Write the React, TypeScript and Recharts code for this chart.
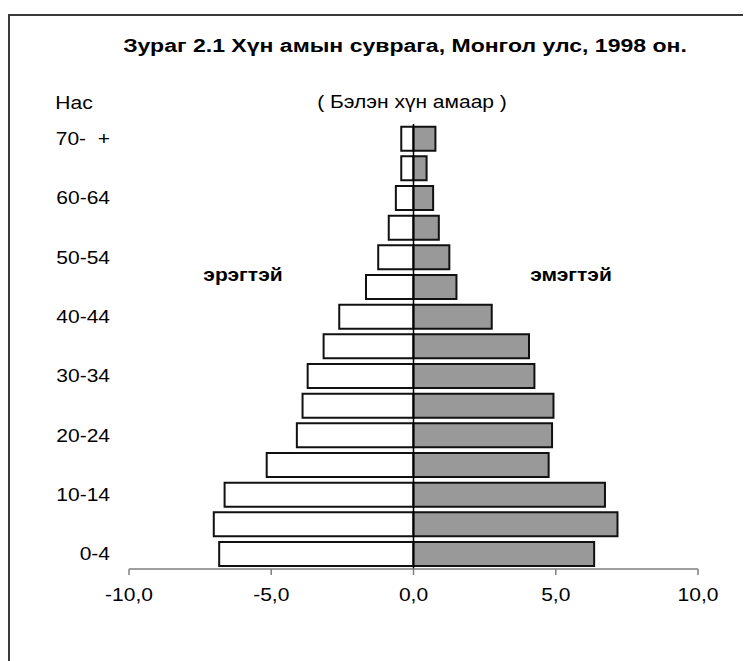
import React from "react";
import {
  BarChart,
  Bar,
  XAxis,
  YAxis,
  ReferenceLine,
} from "recharts";

/* ── Population pyramid, Mongolia 1998 (percent of total population) ── */
const ageGroups = [
  "0-4", "5-9", "10-14", "15-19", "20-24", "25-29", "30-34", "35-39",
  "40-44", "45-49", "50-54", "55-59", "60-64", "65-69", "70-  +",
];
const male = [
  -6.83, -7.02, -6.64, -5.16, -4.1, -3.9, -3.72, -3.16,
  -2.61, -1.67, -1.24, -0.87, -0.62, -0.43, -0.43,
];
const female = [
  6.35, 7.17, 6.73, 4.75, 4.87, 4.92, 4.25, 4.06,
  2.75, 1.51, 1.26, 0.89, 0.69, 0.46, 0.77,
];
const xTicks = [-10, -5, 0, 5, 10];

const data = ageGroups.map((age, i) => ({ age, male: male[i], female: female[i] }));

const FONT = "'Liberation Sans', Arial, sans-serif";
const SX = 1.2;

const fmt = (v: number) => v.toFixed(1).replace(".", ",");

const XTick = ({ x, y, payload }: any) => (
  <g transform={`translate(${x},${y}) scale(${SX},1)`}>
    <text textAnchor="middle" dy="0.71em" fontSize={17.5} fill="#000" fontFamily={FONT}>
      {fmt(payload.value)}
    </text>
  </g>
);

const YTick = ({ x, y, payload }: any) => (
  <g transform={`translate(${x},${y}) scale(${SX},1)`}>
    <text
      textAnchor="end"
      dy="0.355em"
      fontSize={17.5}
      fill="#000"
      fontFamily={FONT}
      style={{ whiteSpace: "pre" }}
    >
      {payload.value}
    </text>
  </g>
);

function Label({
  x,
  y,
  size,
  bold,
  children,
}: {
  x: number;
  y: number;
  size: number;
  bold?: boolean;
  children: React.ReactNode;
}) {
  return (
    <div
      style={{
        position: "absolute",
        left: x,
        top: y,
        transform: `translate(-50%,-50%) scaleX(${SX})`,
        fontFamily: FONT,
        fontSize: size,
        fontWeight: bold ? 700 : 400,
        lineHeight: 1,
        whiteSpace: "pre",
        color: "#000",
      }}
    >
      {children}
    </div>
  );
}

export default function App() {
  // page coords minus the 8px body margin
  return (
    <div style={{ position: "relative", width: 743, height: 653, overflow: "hidden", background: "#fff" }}>
      <div
        style={{
          position: "absolute",
          left: 0,
          top: 6,
          width: 800,
          height: 700,
          borderTop: "2px solid #3a3a3a",
          borderLeft: "2px solid #3a3a3a",
        }}
      />
      <Label x={397} y={38} size={19.2} bold>
        Зураг 2.1 Хүн амын суврага, Монгол улс, 1998 он.
      </Label>
      <Label x={66} y={96} size={17.5}>
        Нас
      </Label>
      <Label x={404} y={95} size={17.5}>
        ( Бэлэн хүн амаар )
      </Label>
      <Label x={235} y={268} size={17.5} bold>
        эрэгтэй
      </Label>
      <Label x={563} y={268} size={17.5} bold>
        эмэгтэй
      </Label>
      <div style={{ position: "absolute", left: 0, top: 0 }}>
        <BarChart
          width={743}
          height={653}
          data={data}
          layout="vertical"
          stackOffset="sign"
          barCategoryGap="9%"
          margin={{ top: 116, right: 53, left: 11, bottom: 61 }}
        >
          <XAxis
            type="number"
            domain={[-10, 10]}
            ticks={xTicks}
            height={31}
            axisLine={{ stroke: "#7f7f7f", strokeWidth: 1.5 }}
            tickLine={{ stroke: "#7f7f7f", strokeWidth: 1.5 }}
            tickSize={6}
            tickMargin={14}
            tick={<XTick />}
          />
          <YAxis
            type="category"
            dataKey="age"
            reversed
            interval={1}
            width={110}
            axisLine={false}
            tickLine={false}
            tickSize={0}
            tickMargin={19}
            tick={<YTick />}
          />
          <Bar
            dataKey="male"
            stackId="a"
            fill="#ffffff"
            stroke="#111"
            strokeWidth={2}
            isAnimationActive={false}
          />
          <Bar
            dataKey="female"
            stackId="a"
            fill="#999999"
            stroke="#111"
            strokeWidth={2}
            isAnimationActive={false}
          />
          <ReferenceLine x={0} stroke="#000" strokeWidth={1.5} />
        </BarChart>
      </div>
    </div>
  );
}
